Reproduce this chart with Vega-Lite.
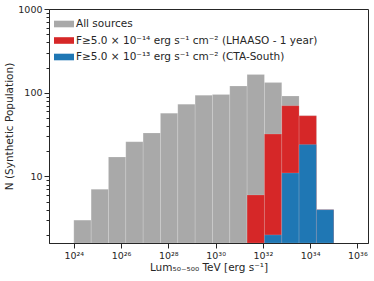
{
  "$schema": "https://vega.github.io/schema/vega-lite/v6.json",
  "width": 319,
  "height": 234,
  "autosize": {"type": "none"},
  "padding": {"left": 49, "top": 9, "right": 6, "bottom": 38},
  "background": "white",
  "config": {
    "font": "DejaVu Sans",
    "view": {"stroke": "#262626", "strokeWidth": 1},
    "axis": {
      "domainColor": "#262626",
      "tickColor": "#262626",
      "labelColor": "#262626",
      "titleColor": "#262626",
      "labelFont": "DejaVu Sans",
      "titleFont": "DejaVu Sans",
      "titleFontWeight": "normal",
      "grid": false
    }
  },
  "data": {
    "values": [
      {"lo": 1e24, "hi": 5.412e24, "n": 3, "series": "All sources"},
      {"lo": 5.412e24, "hi": 2.929e25, "n": 7, "series": "All sources"},
      {"lo": 2.929e25, "hi": 1.585e26, "n": 17, "series": "All sources"},
      {"lo": 1.585e26, "hi": 8.577e26, "n": 26, "series": "All sources"},
      {"lo": 8.577e26, "hi": 4.642e27, "n": 33, "series": "All sources"},
      {"lo": 4.642e27, "hi": 2.512e28, "n": 57, "series": "All sources"},
      {"lo": 2.512e28, "hi": 1.359e29, "n": 73, "series": "All sources"},
      {"lo": 1.359e29, "hi": 7.356e29, "n": 93, "series": "All sources"},
      {"lo": 7.356e29, "hi": 3.981e30, "n": 95, "series": "All sources"},
      {"lo": 3.981e30, "hi": 2.154e31, "n": 120, "series": "All sources"},
      {"lo": 2.154e31, "hi": 1.166e32, "n": 165, "series": "All sources"},
      {"lo": 1.166e32, "hi": 6.31e32, "n": 132, "series": "All sources"},
      {"lo": 6.31e32, "hi": 3.415e33, "n": 91, "series": "All sources"},
      {"lo": 3.415e33, "hi": 1.848e34, "n": 53, "series": "All sources"},
      {"lo": 1.848e34, "hi": 1e35, "n": 4, "series": "All sources"},
      {"lo": 2.154e31, "hi": 1.166e32, "n": 6, "series": "F≥5.0 × 10⁻¹⁴ erg s⁻¹ cm⁻² (LHAASO - 1 year)"},
      {"lo": 1.166e32, "hi": 6.31e32, "n": 32, "series": "F≥5.0 × 10⁻¹⁴ erg s⁻¹ cm⁻² (LHAASO - 1 year)"},
      {"lo": 6.31e32, "hi": 3.415e33, "n": 70, "series": "F≥5.0 × 10⁻¹⁴ erg s⁻¹ cm⁻² (LHAASO - 1 year)"},
      {"lo": 3.415e33, "hi": 1.848e34, "n": 53, "series": "F≥5.0 × 10⁻¹⁴ erg s⁻¹ cm⁻² (LHAASO - 1 year)"},
      {"lo": 1.848e34, "hi": 1e35, "n": 4, "series": "F≥5.0 × 10⁻¹⁴ erg s⁻¹ cm⁻² (LHAASO - 1 year)"},
      {"lo": 1.166e32, "hi": 6.31e32, "n": 2, "series": "F≥5.0 × 10⁻¹³ erg s⁻¹ cm⁻² (CTA-South)"},
      {"lo": 6.31e32, "hi": 3.415e33, "n": 11, "series": "F≥5.0 × 10⁻¹³ erg s⁻¹ cm⁻² (CTA-South)"},
      {"lo": 3.415e33, "hi": 1.848e34, "n": 24, "series": "F≥5.0 × 10⁻¹³ erg s⁻¹ cm⁻² (CTA-South)"},
      {"lo": 1.848e34, "hi": 1e35, "n": 4, "series": "F≥5.0 × 10⁻¹³ erg s⁻¹ cm⁻² (CTA-South)"}
    ]
  },
  "mark": {"type": "bar", "clip": true, "stroke": "white", "strokeOpacity": 0.3, "strokeWidth": 0.5},
  "encoding": {
    "x": {
      "field": "lo",
      "type": "quantitative",
      "scale": {"type": "log", "domain": [8.91e22, 2.818e36], "nice": false},
      "axis": {
        "values": [1e24, 1e26, 1e28, 1e30, 1e32, 1e34, 1e36],
        "labelExpr": "'10' + substring('⁰¹²³⁴⁵⁶⁷⁸⁹', floor(round(log(datum.value)/LN10)/10), floor(round(log(datum.value)/LN10)/10)+1) + substring('⁰¹²³⁴⁵⁶⁷⁸⁹', round(log(datum.value)/LN10)%10, round(log(datum.value)/LN10)%10+1)",
        "labelFontSize": 9.5,
        "tickSize": 5,
        "labelPadding": 2,
        "title": "Lum₅₀₋₅₀₀ TeV [erg s⁻¹]",
        "titleFontSize": 10.5,
        "titlePadding": 3
      }
    },
    "x2": {"field": "hi"},
    "y": {
      "field": "n",
      "type": "quantitative",
      "stack": null,
      "scale": {"type": "log", "domain": [1.6, 1000], "nice": false},
      "axis": {
        "values": [2, 3, 4, 5, 6, 7, 8, 9, 10, 20, 30, 40, 50, 60, 70, 80, 90, 100, 200, 300, 400, 500, 600, 700, 800, 900, 1000],
        "labelExpr": "(datum.value == 10 || datum.value == 100 || datum.value == 1000) ? format(datum.value, 'd') : ''",
        "tickSize": {"condition": {"test": "datum.value == 10 || datum.value == 100 || datum.value == 1000", "value": 5}, "value": 3},
        "labelFontSize": 9.5,
        "labelPadding": 2,
        "title": "N (Synthetic Population)",
        "titleFontSize": 10.5,
        "titlePadding": 3
      }
    },
    "y2": {"value": "height"},
    "color": {
      "field": "series",
      "type": "nominal",
      "scale": {
        "domain": ["All sources", "F≥5.0 × 10⁻¹⁴ erg s⁻¹ cm⁻² (LHAASO - 1 year)", "F≥5.0 × 10⁻¹³ erg s⁻¹ cm⁻² (CTA-South)"],
        "range": ["#a9a9a9", "#d62728", "#1f77b4"]
      },
      "legend": {
        "title": null,
        "orient": "top-left",
        "offset": 5,
        "symbolType": "M-1,-0.33H1V0.33H-1Z",
        "symbolSize": 400,
        "symbolStrokeWidth": 0,
        "symbolOpacity": 1,
        "labelFontSize": 10.5,
        "labelFont": "DejaVu Sans",
        "labelColor": "#262626",
        "labelLimit": 400,
        "labelOffset": 2,
        "rowPadding": 0.5,
        "padding": 0
      }
    }
  }
}
